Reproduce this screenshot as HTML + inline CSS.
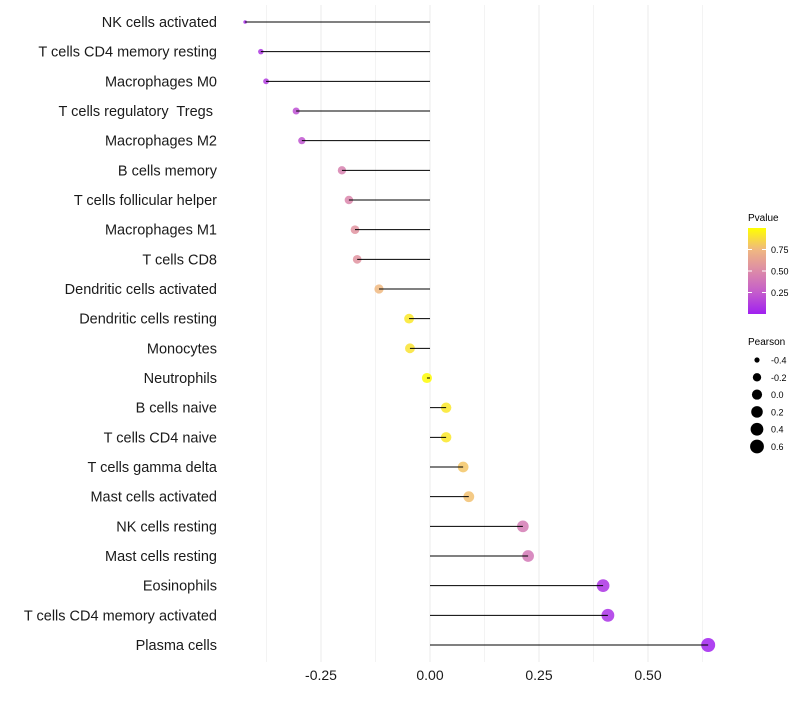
<!DOCTYPE html>
<html><head><meta charset="utf-8"><style>
body{margin:0;background:#fff;font-family:"Liberation Sans",sans-serif}
svg text{font-family:"Liberation Sans",sans-serif;white-space:pre}
</style></head><body>
<svg id="chart" width="800" height="700">
<defs><linearGradient id="pg" x1="0" y1="1" x2="0" y2="0">
<stop offset="0" stop-color="#a020f0"/><stop offset="0.25" stop-color="#c45ccc"/><stop offset="0.5" stop-color="#dc8aa8"/><stop offset="0.75" stop-color="#f0b880"/><stop offset="1" stop-color="#ffff00"/></linearGradient></defs>
<g id="grid"></g>
<g id="dots"></g>
<g id="marks"></g>
<g id="ylab"></g>
<g id="xlab"></g>
<g>
<text x="748" y="221" font-size="10">Pvalue</text>
<rect x="748" y="228" width="18" height="86" fill="url(#pg)"/>
<g id="cbt"></g>
</g>
<g id="sizeleg">
<text x="748" y="345" font-size="10">Pearson</text>
</g>
</svg>
<script>
const categories=["NK cells activated","T cells CD4 memory resting","Macrophages M0","T cells regulatory  Tregs ","Macrophages M2","B cells memory","T cells follicular helper","Macrophages M1","T cells CD8","Dendritic cells activated","Dendritic cells resting","Monocytes","Neutrophils","B cells naive","T cells CD4 naive","T cells gamma delta","Mast cells activated","NK cells resting","Mast cells resting","Eosinophils","T cells CD4 memory activated","Plasma cells"];
const pearson=[-0.424,-0.388,-0.376,-0.307,-0.294,-0.202,-0.186,-0.172,-0.167,-0.117,-0.048,-0.046,-0.007,0.037,0.037,0.076,0.089,0.213,0.225,0.397,0.408,0.638];
const pvalues=[0.05,0.1,0.12,0.2,0.22,0.45,0.48,0.55,0.55,0.75,0.92,0.9,0.99,0.92,0.92,0.8,0.78,0.42,0.4,0.08,0.07,0.01];
const xTicks=[-0.25,0,0.25,0.5];
const xTickLabels=["-0.25","0.00","0.25","0.50"];
const sizeLegend=[-0.4,-0.2,0.0,0.2,0.4,0.6];
const pTicks=[0.25,0.5,0.75];
const NS="http://www.w3.org/2000/svg";
const x=v=>430+v*436;
const y=i=>22+i*(623/(categories.length-1));
const vmin=Math.min(...pearson),vmax=Math.max(...pearson);
const r=v=>1.8+5.2*Math.sqrt(Math.max(0,(v-vmin)/(vmax-vmin)));
function lerp(a,b,t){return a.map((c,i)=>Math.round(c+(b[i]-c)*t));}
const stops=[[160,32,240],[196,92,204],[220,138,168],[240,184,128],[255,255,0]];
function col(p){const k=Math.min(3,Math.floor(p*4));return `rgb(${lerp(stops[k],stops[k+1],p*4-k)})`;}
function mk(t,a,parent){const e=document.createElementNS(NS,t);for(const k in a)e.setAttribute(k,a[k]);parent.appendChild(e);return e;}
const grid=document.getElementById('grid');
for(let v=-0.375;v<=0.65;v+=0.125){const l=mk('line',{x1:x(v),x2:x(v),y1:5,y2:662,stroke:'#ebebeb','stroke-width':Math.abs(v*8%2)<1e-6?1:0.6},grid);

}
const marks=document.getElementById('marks'),dots=document.getElementById('dots');
categories.forEach((c,i)=>{
const d=mk('circle',{cx:x(pearson[i]),cy:y(i),r:r(pearson[i]),fill:col(pvalues[i]),'fill-opacity':0.85},dots);


const l=mk('line',{x1:x(0),x2:x(pearson[i]),y1:y(i),y2:y(i),stroke:'#000','stroke-width':1},marks);


const t=mk('text',{x:217,y:y(i)+5,'text-anchor':'end','font-size':14.5,fill:'#1a1a1a'},document.getElementById('ylab'));
t.textContent=c;


});
xTicks.forEach((v,i)=>{const t=mk('text',{x:x(v),y:680,'text-anchor':'middle','font-size':14,fill:'#1a1a1a'},document.getElementById('xlab'));
t.textContent=xTickLabels[i];

});
const cbt=document.getElementById('cbt');
pTicks.forEach(p=>{const yy=314-p*86;
const t=mk('text',{x:771,y:yy+3.5,'font-size':9},cbt);t.textContent=p.toFixed(2);


mk('line',{x1:748,x2:752,y1:yy,y2:yy,stroke:'#fff'},cbt);mk('line',{x1:762,x2:766,y1:yy,y2:yy,stroke:'#fff'},cbt);});
const sl=document.getElementById('sizeleg');
sizeLegend.forEach((v,i)=>{const yy=360+i*17.3;
const c=mk('circle',{cx:757,cy:yy,r:r(v),fill:'#000'},sl);


const t=mk('text',{x:771,y:yy+3.5,'font-size':9},sl);t.textContent=v.toFixed(1);

});
</script>
</body></html>
